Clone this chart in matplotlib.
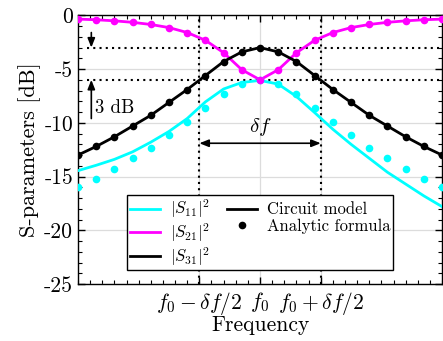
import matplotlib
matplotlib.use("Agg")
import matplotlib.pyplot as plt
import numpy as np

plt.rcParams["font.family"] = "serif"
plt.rcParams["font.serif"] = ["cmr10", "DejaVu Serif"]
plt.rcParams["mathtext.fontset"] = "cm"
plt.rcParams["axes.formatter.use_mathtext"] = True
plt.rcParams["axes.unicode_minus"] = False

# Detuning from f0 in units of delta_f/2
detuning = [-3.0, -2.7, -2.4, -2.1, -1.8, -1.5, -1.2, -0.9, -0.6, -0.3, 0.0,
            0.3, 0.6, 0.9, 1.2, 1.5, 1.8, 2.1, 2.4, 2.7, 3.0]

# Circuit model (solid lines), dB
s11_circuit = [-14.45, -13.95, -13.4, -12.7, -11.8, -10.8, -9.6, -8.05, -6.85, -6.25, -6.05,
               -6.4, -7.55, -9.05, -10.6, -12.0, -13.3, -14.6, -15.7, -16.8, -17.8]
s21_circuit = [-0.35, -0.41, -0.51, -0.65, -0.85, -1.14, -1.6, -2.32, -3.48, -5.06, -6.0,
               -5.06, -3.48, -2.32, -1.6, -1.14, -0.85, -0.65, -0.51, -0.41, -0.35]
s31_circuit = [-13.0, -12.2, -11.3, -10.3, -9.3, -8.1, -6.9, -5.6, -4.3, -3.4, -3.0,
               -3.4, -4.3, -5.6, -6.9, -8.1, -9.3, -10.3, -11.3, -12.2, -13.0]

# Analytic formula (dots), dB
s11_analytic = [-16.0, -15.2, -14.3, -13.3, -12.3, -11.1, -9.9, -8.6, -7.3, -6.4, -6.0,
                -6.4, -7.3, -8.6, -9.9, -11.1, -12.3, -13.3, -14.3, -15.2, -16.0]
s21_analytic = [-0.35, -0.41, -0.51, -0.65, -0.85, -1.14, -1.6, -2.32, -3.48, -5.06, -6.0,
                -5.06, -3.48, -2.32, -1.6, -1.14, -0.85, -0.65, -0.51, -0.41, -0.35]
s31_analytic = [-13.0, -12.2, -11.3, -10.3, -9.3, -8.1, -6.9, -5.6, -4.3, -3.4, -3.0,
                -3.4, -4.3, -5.6, -6.9, -8.1, -9.3, -10.3, -11.3, -12.2, -13.0]

xtick_pos = [-1, 0, 1]
xtick_labels = [r"$f_0-\delta f/2$", r"$f_0$", r"$f_0+\delta f/2$"]
ytick_pos = [0, -5, -10, -15, -20, -25]
ytick_labels = ["0", "-5", "-10", "-15", "-20", "-25"]

fig = plt.figure(figsize=(4.43, 3.41), dpi=100)
ax = fig.add_axes([0.176, 0.167, 0.822, 0.788])

series = [
    (s11_circuit, s11_analytic, "cyan", r"$|S_{11}|^2$"),
    (s21_circuit, s21_analytic, "magenta", r"$|S_{21}|^2$"),
    (s31_circuit, s31_analytic, "black", r"$|S_{31}|^2$"),
]
handles = []
for circ, ana, col, lab in series:
    h, = ax.plot(detuning, circ, color=col, lw=2.0, label=lab, zorder=3)
    ax.plot(detuning, ana, "o", color=col, ms=5.5, mec="none", zorder=4)
    handles.append(h)

# Guide lines: -3 dB / -6 dB levels and band edges
dot_style = (0, (1, 2))
for lvl in (-3, -6):
    ax.plot([-2.85, 3.0], [lvl, lvl], color="black", lw=1.5, ls=dot_style, zorder=2)
for edge in (-1, 1):
    ax.axvline(edge, color="black", lw=1.5, ls=dot_style, zorder=2)

# 3 dB arrows
arrow_kw = dict(arrowstyle="-|>,head_length=0.55,head_width=0.22",
                color="black", lw=1.2, shrinkA=0, shrinkB=0)
ax.annotate("", xy=(-2.78, -3.0), xytext=(-2.78, -1.6), arrowprops=arrow_kw)
ax.annotate("", xy=(-2.78, -6.0), xytext=(-2.78, -9.6), arrowprops=arrow_kw)
ax.text(-2.72, -8.6, "3 dB", fontsize=13.5, ha="left", va="center")

# Bandwidth arrow
ax.annotate("", xy=(-1, -11.9), xytext=(1, -11.9),
            arrowprops=dict(arrowstyle="<|-|>,head_length=0.55,head_width=0.22",
                            color="black", lw=1.2, shrinkA=0, shrinkB=0))
ax.text(0, -10.4, r"$\delta f$", fontsize=15, ha="center", va="center")

ax.set_xlim(-3, 3)
ax.set_ylim(-25, 0)
ax.set_xticks(xtick_pos)
ax.set_xticklabels(xtick_labels)
ax.set_yticks(ytick_pos)
ax.set_yticklabels(ytick_labels)
ax.set_xticks(np.arange(-3, 3.01, 0.2), minor=True)
ax.set_yticks(np.arange(-25, 0.1, 1), minor=True)
ax.tick_params(which="both", direction="in", top=True, right=True, labelsize=15.5)
ax.tick_params(which="major", length=5, width=1)
ax.tick_params(which="minor", length=3, width=0.8)
ax.tick_params(axis="x", which="major", pad=4)
ax.grid(True, which="major", color="#dcdcdc", lw=0.9, zorder=0)
ax.set_axisbelow(True)
for sp in ax.spines.values():
    sp.set_linewidth(1.0)

ax.set_xlabel("Frequency", fontsize=15.5, labelpad=-1)
ax.set_ylabel("S-parameters [dB]", fontsize=16, labelpad=2)

circ_handle, = ax.plot([], [], color="black", lw=2.0)
ana_handle, = ax.plot([], [], "o", color="black", ms=5.5, mec="none")
blank, = ax.plot([], [], color="none")
leg = ax.legend(handles + [circ_handle, ana_handle, blank],
                [s[3] for s in series] + ["Circuit model", "Analytic formula", ""],
                ncol=2, loc="lower center", bbox_to_anchor=(0.5, 0.052),
                fontsize=12, frameon=True, fancybox=False, edgecolor="black",
                framealpha=1, handlelength=1.8, borderpad=0.15, labelspacing=0.05,
                columnspacing=1.0, handletextpad=0.6, borderaxespad=0)
leg.get_frame().set_linewidth(1.0)

fig.savefig("out.png", dpi=100)
